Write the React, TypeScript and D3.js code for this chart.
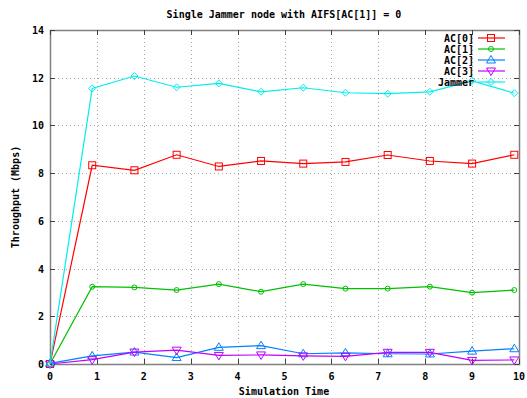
import React, { useRef, useEffect } from 'react'
import * as d3 from 'd3'

// sample times (s)
const times = [0, 0.9, 1.8, 2.7, 3.6, 4.5, 5.4, 6.3, 7.2, 8.1, 9.0, 9.9]

const ac0 = [0, 8.33, 8.12, 8.77, 8.28, 8.51, 8.4, 8.47, 8.76, 8.51, 8.4, 8.77]
const ac1 = [0, 3.24, 3.21, 3.1, 3.35, 3.03, 3.35, 3.16, 3.16, 3.24, 2.99, 3.1]
const ac2 = [0.03, 0.34, 0.5, 0.27, 0.7, 0.77, 0.43, 0.47, 0.43, 0.42, 0.54, 0.64]
const ac3 = [0, 0.18, 0.5, 0.58, 0.36, 0.38, 0.34, 0.32, 0.49, 0.49, 0.15, 0.17]
const jammer = [0, 11.55, 12.07, 11.6, 11.76, 11.41, 11.58, 11.37, 11.33, 11.41, 11.87, 11.35]

const seriesNames = ['AC[0]', 'AC[1]', 'AC[2]', 'AC[3]', 'Jammer']
const seriesColors = ['#ff0000', '#00c000', '#0080ff', '#c000ff', '#00eeee']
const seriesMarks = ['square', 'circle', 'up', 'down', 'diamond']

const xTicks = [0, 1, 2, 3, 4, 5, 6, 7, 8, 9, 10]
const yTicks = [0, 2, 4, 6, 8, 10, 12, 14]

const FONT = '"DejaVu Sans Mono", monospace'

const App = () => {
    const element = useRef<SVGSVGElement>(null)

    useEffect(() => {
        const width = 527
        const height = 398
        const left = 50, right = 519, top = 30, bottom = 364

        const svg = d3.select(element.current)
        svg.selectAll('*').remove()

        const x = d3.scaleLinear().domain([0, 10]).range([left, right])
        const y = d3.scaleLinear().domain([0, 14]).range([bottom, top])

        svg.append('rect')
            .attr('width', width).attr('height', height).attr('fill', '#fff')

        // grid
        const grid = svg.append('g')
            .attr('stroke', '#a8a8a8')
            .attr('stroke-width', 1)
            .attr('stroke-dasharray', '1,3')
        xTicks.slice(1, -1).forEach(t => {
            grid.append('line')
                .attr('x1', Math.round(x(t)) + 0.5).attr('x2', Math.round(x(t)) + 0.5)
                .attr('y1', top).attr('y2', bottom)
        })
        yTicks.slice(1, -1).forEach(t => {
            grid.append('line')
                .attr('x1', left).attr('x2', right)
                .attr('y1', Math.round(y(t)) + 0.5).attr('y2', Math.round(y(t)) + 0.5)
        })

        // border + ticks
        svg.append('rect')
            .attr('x', left + 0.5).attr('y', top + 0.5)
            .attr('width', right - left).attr('height', bottom - top)
            .attr('fill', 'none').attr('stroke', '#808080').attr('stroke-width', 1.5)

        const ticks = svg.append('g').attr('stroke', '#404040').attr('stroke-width', 1)
        xTicks.forEach(t => {
            const px = Math.round(x(t)) + 0.5
            ticks.append('line').attr('x1', px).attr('x2', px).attr('y1', bottom).attr('y2', bottom - 5)
            ticks.append('line').attr('x1', px).attr('x2', px).attr('y1', top).attr('y2', top + 5)
        })
        yTicks.forEach(t => {
            const py = Math.round(y(t)) + 0.5
            ticks.append('line').attr('x1', left).attr('x2', left + 5).attr('y1', py).attr('y2', py)
            ticks.append('line').attr('x1', right).attr('x2', right - 5).attr('y1', py).attr('y2', py)
        })

        const labels = svg.append('g')
            .attr('font-family', FONT).attr('font-size', 10).attr('font-weight', 'bold').attr('fill', '#000')
        xTicks.forEach(t => {
            labels.append('text').attr('x', x(t)).attr('y', bottom + 16)
                .attr('text-anchor', 'middle').text(t)
        })
        yTicks.forEach(t => {
            labels.append('text').attr('x', left - 6).attr('y', y(t) + 4)
                .attr('text-anchor', 'end').text(t)
        })

        labels.append('text').attr('x', 284).attr('y', 18)
            .attr('text-anchor', 'middle').text('Single Jammer node with AIFS[AC[1]] = 0')
        labels.append('text').attr('x', 284).attr('y', 395)
            .attr('text-anchor', 'middle').text('Simulation Time')
        labels.append('text')
            .attr('transform', `translate(19,${(top + bottom) / 2}) rotate(-90)`)
            .attr('text-anchor', 'middle').text('Throughput (Mbps)')

        const marker = (g: any, kind: string, cx: number, cy: number, color: string) => {
            const s = 3.5
            if (kind === 'square') {
                g.append('rect').attr('x', cx - s).attr('y', cy - s).attr('width', 2 * s).attr('height', 2 * s)
                    .attr('fill', 'none').attr('stroke', color)
            } else if (kind === 'circle') {
                g.append('circle').attr('cx', cx).attr('cy', cy).attr('r', 2.5)
                    .attr('fill', 'none').attr('stroke', color)
            } else if (kind === 'up') {
                g.append('path').attr('d', `M${cx},${cy - 4.5}L${cx + 4.5},${cy + 3}L${cx - 4.5},${cy + 3}Z`)
                    .attr('fill', 'none').attr('stroke', color)
            } else if (kind === 'down') {
                g.append('path').attr('d', `M${cx},${cy + 4.5}L${cx + 4.5},${cy - 3}L${cx - 4.5},${cy - 3}Z`)
                    .attr('fill', 'none').attr('stroke', color)
            } else {
                g.append('path').attr('d', `M${cx},${cy - 3.5}L${cx + 3.5},${cy}L${cx},${cy + 3.5}L${cx - 3.5},${cy}Z`)
                    .attr('fill', 'none').attr('stroke', color)
            }
        }

        const allSeries = [ac0, ac1, ac2, ac3, jammer]
        const line = d3.line<number>().x((d, i) => x(times[i])).y(d => y(d))

        allSeries.forEach((vals, k) => {
            const g = svg.append('g')
            g.append('path').datum(vals)
                .attr('d', line)
                .attr('fill', 'none')
                .attr('stroke', seriesColors[k])
                .attr('stroke-width', 1.2)
            vals.forEach((v, i) => marker(g, seriesMarks[k], x(times[i]), y(v), seriesColors[k]))
        })

        // legend
        const legend = svg.append('g')
        seriesNames.forEach((name, k) => {
            const ly = 38 + k * 11
            legend.append('text').attr('x', 474).attr('y', ly + 4)
                .attr('text-anchor', 'end')
                .attr('font-family', FONT).attr('font-size', 10).attr('font-weight', 'bold')
                .text(name)
            legend.append('line').attr('x1', 478).attr('x2', 505).attr('y1', ly).attr('y2', ly)
                .attr('stroke', seriesColors[k]).attr('stroke-width', 1.2)
            marker(legend, seriesMarks[k], 491, ly, seriesColors[k])
        })
    }, [])

    return (
        <div style={{ position: 'absolute', left: 0, top: 0, width: 527, height: 398, overflow: 'hidden' }}>
            <svg ref={element} width={527} height={398} style={{ display: 'block' }}></svg>
        </div>
    )
}

export default App
